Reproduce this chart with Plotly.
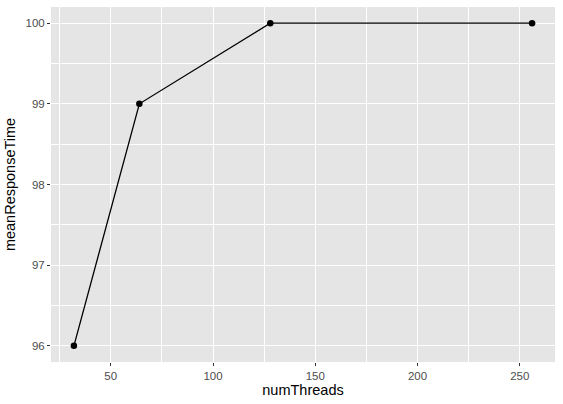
import plotly.graph_objects as go

# thread counts vs mean response time
num_threads = [32, 64, 128, 256]
mean_response_time = [96, 99, 100, 100]

x_ticks = [50, 100, 150, 200, 250]
y_ticks = [96, 97, 98, 99, 100]

fig = go.Figure()
fig.add_trace(go.Scatter(
    x=num_threads, y=mean_response_time, mode="lines+markers",
    line=dict(color="black", width=1.3),
    marker=dict(color="black", size=6.5),
    showlegend=False))

# ggplot style: 5% expansion on each side
xspan = max(num_threads) - min(num_threads)
yspan = max(mean_response_time) - min(mean_response_time)

axis_common = dict(
    showgrid=True, gridcolor="white", gridwidth=1.1,
    zeroline=False, showline=False, automargin=False,
    ticks="outside", ticklen=3, tickwidth=1, tickcolor="#333333",
    tickfont=dict(family="Liberation Sans, Arial", size=11.5, color="#4d4d4d"),
    minor=dict(showgrid=True, gridcolor="white", gridwidth=0.5),
)

fig.update_xaxes(
    range=[min(num_threads) - 0.05 * xspan, max(num_threads) + 0.05 * xspan],
    tickvals=x_ticks, minor_tickvals=[25, 75, 125, 175, 225],
    title=dict(text="numThreads", standoff=4,
               font=dict(family="Liberation Sans, Arial", size=14.5, color="black")),
    **axis_common)
fig.update_yaxes(
    range=[min(mean_response_time) - 0.05 * yspan, max(mean_response_time) + 0.05 * yspan],
    tickvals=y_ticks, minor_tickvals=[96.5, 97.5, 98.5, 99.5],
    title=dict(text="meanResponseTime", standoff=6,
               font=dict(family="Liberation Sans, Arial", size=14.5, color="black")),
    **axis_common)

fig.update_layout(
    width=563, height=404,
    margin=dict(l=51, r=8, t=7, b=42),
    plot_bgcolor="#e5e5e5", paper_bgcolor="white",
)

# drop the default body margin so the figure sits at the page corner
fig.write_html("out.html", config={"displayModeBar": False},
               post_script="document.body.style.margin='0';")
